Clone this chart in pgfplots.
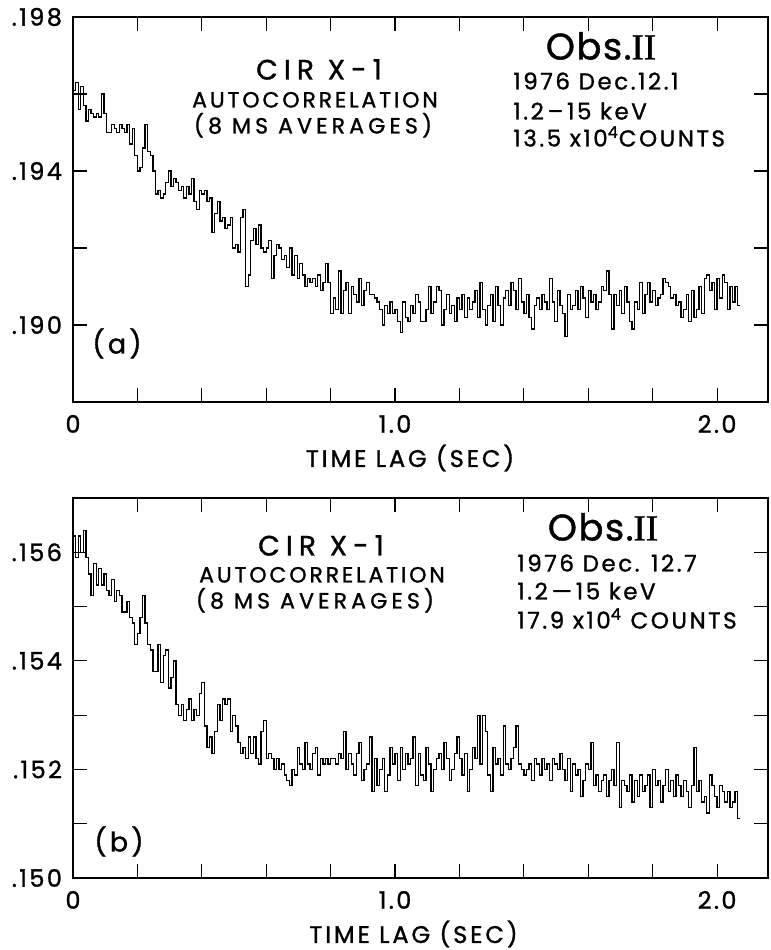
\documentclass[border=0pt]{standalone}
\usepackage{fontspec}
\setmainfont{Poppins}
\newfontfamily\lett[FakeBold=1.2]{Poppins}
\newfontfamily\serif[FakeBold=1.2]{Liberation Serif}
\usepackage{pgfplots}
\pgfplotsset{compat=1.18}

% lettering styles (size in pt, extra letter spacing)
\newcommand\ticksize{\lett\addfontfeature{LetterSpace=10}\fontsize{12}{14}\selectfont}
\newcommand\labsize{\lett\addfontfeature{LetterSpace=12}\fontsize{12}{14}\selectfont}
\newcommand\titlefont{\lett\addfontfeature{LetterSpace=22}\fontsize{14}{16}\selectfont}
\newcommand\subfont{\lett\addfontfeature{LetterSpace=13}\fontsize{11}{13}\selectfont}
\newcommand\subfontw{\lett\addfontfeature{LetterSpace=19}\fontsize{11}{13}\selectfont}
\newcommand\obsfont{\lett\addfontfeature{LetterSpace=4}\fontsize{18.5}{20}\selectfont}
\newcommand\infofont{\lett\addfontfeature{LetterSpace=11}\fontsize{11.5}{13}\selectfont}
\newcommand\tagfont{\lett\addfontfeature{LetterSpace=12}\fontsize{13.5}{15}\selectfont}

\pgfplotsset{
  panel/.style={
    scale only axis,
    width=347.5pt,
    xmin=0, xmax=2.158,
    axis line style={line width=0.8pt},
    every tick/.style={black, line width=0.6pt},
    major tick length=7pt,
    tick align=inside,
    xtick={0,0.2,0.4,0.6,0.8,1.0,1.2,1.4,1.6,1.8,2.0},
    xticklabels={0,,,,,1.0,,,,,2.0},
    scaled ticks=false,
    tick label style={font=\ticksize},
    xticklabel style={yshift=-3pt},
    yticklabel style={xshift=-2pt},
    xlabel={TIME LAG (SEC)},
    xlabel style={font=\labsize, anchor=center, yshift=-28pt},
  },
  acf/.style={const plot mark left, black, line width=0.65pt, no marks},
}

\begin{document}
\begin{tikzpicture}
\useasboundingbox (0,0) rectangle (385.5pt,-475pt);

% ---------------- panel (a) ----------------
\begin{axis}[panel,
  at={(36.5pt,-201pt)}, anchor=south west,
  height=192.5pt,
  ymin=0.188, ymax=0.198,
  ytick={0.188,0.190,0.192,0.194,0.196,0.198},
  yticklabels={,.190,,.194,,.198},
  xlabel style={at={(axis description cs:0.485,0)}},
]
\addplot[acf] coordinates {
(0,.1961)(.008,.1963)(.016,.1956)(.024,.1962)(.032,.1957)(.04,.1953)(.048,.1956)(.056,.1955)(.064,.1954)(.072,.1955)
(.08,.1954)(.088,.1960)(.096,.1955)(.104,.1950)(.112,.1950)(.12,.1952)(.128,.1951)(.136,.1950)(.144,.1952)(.152,.1951)
(.16,.1950)(.168,.1952)(.176,.1947)(.184,.1951)(.192,.1944)(.2,.1940)(.208,.1941)(.216,.1946)(.224,.1952)(.232,.1945)
(.24,.1944)(.248,.1940)(.256,.1934)(.264,.1935)(.272,.1933)(.28,.1934)(.288,.1937)(.296,.1940)(.304,.1936)(.312,.1938)
(.32,.1937)(.328,.1935)(.336,.1936)(.344,.1933)(.352,.1936)(.36,.1934)(.368,.1938)(.376,.1932)(.384,.1930)(.392,.1935)
(.4,.1934)(.408,.1935)(.416,.1932)(.424,.1933)(.432,.1924)(.44,.1929)(.448,.1932)(.456,.1927)(.464,.1928)(.472,.1925)
(.48,.1926)(.488,.1928)(.496,.1920)(.504,.1921)(.512,.1919)(.52,.1928)(.528,.1930)(.536,.1910)(.544,.1913)(.552,.1922)
(.56,.1925)(.568,.1921)(.576,.1926)(.584,.1920)(.592,.1919)(.6,.1920)(.608,.1922)(.616,.1912)(.624,.1918)(.632,.1921)
(.64,.1920)(.648,.1917)(.656,.1918)(.664,.1915)(.672,.1920)(.68,.1913)(.688,.1918)(.696,.1912)(.704,.1916)(.712,.1913)
(.72,.1910)(.728,.1912)(.736,.1911)(.744,.1912)(.752,.1910)(.76,.1913)(.768,.1909)(.776,.1911)(.784,.1916)(.792,.1911)
(.8,.1903)(.808,.1907)(.816,.1904)(.824,.1914)(.832,.1903)(.84,.1909)(.848,.1911)(.856,.1903)(.864,.1910)(.872,.1908)
(.88,.1906)(.888,.1912)(.896,.1905)(.904,.1909)(.912,.1911)(.92,.1908)(.928,.1908)(.936,.1907)(.944,.1906)(.952,.1904)
(.96,.1900)(.968,.1905)(.976,.1903)(.984,.1906)(.992,.1903)(1.0,.1904)(1.008,.1901)(1.016,.1898)(1.024,.1906)(1.032,.1902)
(1.04,.1901)(1.048,.1905)(1.056,.1903)(1.064,.1908)(1.072,.1906)(1.08,.1901)(1.088,.1901)(1.096,.1904)(1.104,.1910)(1.112,.1903)
(1.12,.1906)(1.128,.1910)(1.136,.1909)(1.144,.1900)(1.152,.1904)(1.16,.1908)(1.168,.1903)(1.176,.1905)(1.184,.1901)(1.192,.1907)
(1.2,.1904)(1.208,.1908)(1.216,.1902)(1.224,.1907)(1.232,.1904)(1.24,.1906)(1.248,.1909)(1.256,.1902)(1.264,.1911)(1.272,.1904)
(1.28,.1900)(1.288,.1905)(1.296,.1908)(1.304,.1901)(1.312,.1910)(1.32,.1905)(1.328,.1900)(1.336,.1907)(1.344,.1909)(1.352,.1905)
(1.36,.1911)(1.368,.1909)(1.376,.1904)(1.384,.1912)(1.392,.1906)(1.4,.1903)(1.408,.1908)(1.416,.1902)(1.424,.1899)(1.432,.1905)
(1.44,.1907)(1.448,.1904)(1.456,.1908)(1.464,.1906)(1.472,.1904)(1.48,.1912)(1.488,.1906)(1.496,.1901)(1.504,.1909)(1.512,.1905)
(1.52,.1903)(1.528,.1897)(1.536,.1908)(1.544,.1904)(1.552,.1905)(1.56,.1909)(1.568,.1904)(1.576,.1910)(1.584,.1907)(1.592,.1902)
(1.6,.1909)(1.608,.1906)(1.616,.1908)(1.624,.1904)(1.632,.1906)(1.64,.1910)(1.648,.1909)(1.656,.1914)(1.664,.1908)(1.672,.1899)
(1.68,.1908)(1.688,.1905)(1.696,.1909)(1.704,.1903)(1.712,.1910)(1.72,.1906)(1.728,.1901)(1.736,.1899)(1.744,.1906)(1.752,.1904)
(1.76,.1911)(1.768,.1903)(1.776,.1908)(1.784,.1911)(1.792,.1906)(1.8,.1909)(1.808,.1905)(1.816,.1907)(1.824,.1908)(1.832,.1912)
(1.84,.1911)(1.848,.1910)(1.856,.1907)(1.864,.1908)(1.872,.1905)(1.88,.1906)(1.888,.1902)(1.896,.1904)(1.904,.1908)(1.912,.1901)
(1.92,.1909)(1.928,.1902)(1.936,.1904)(1.944,.1910)(1.952,.1903)(1.96,.1912)(1.968,.1913)(1.976,.1909)(1.984,.1911)(1.992,.1904)
(2.0,.1912)(2.008,.1907)(2.016,.1913)(2.024,.1911)(2.032,.1904)(2.04,.1910)(2.048,.1906)(2.056,.1910)(2.064,.1905)(2.072,.1905)
};
\end{axis}

% ---------------- panel (b) ----------------
\begin{axis}[panel,
  at={(36.5pt,-439pt)}, anchor=south west,
  height=190pt,
  ymin=0.150, ymax=0.157,
  ytick={0.150,0.151,0.152,0.153,0.154,0.155,0.156,0.157},
  yticklabels={.150,,.152,,.154,,.156,},
  xlabel style={at={(axis description cs:0.49,0)}},
]
\addplot[acf] coordinates {
(0,.1563)(.008,.1559)(.016,.1563)(.024,.1560)(.032,.1564)(.04,.1559)(.048,.1556)(.056,.1552)(.064,.1558)(.072,.1554)
(.08,.1557)(.088,.1554)(.096,.1556)(.104,.1553)(.112,.1552)(.12,.1555)(.128,.1551)(.136,.1553)(.144,.1552)(.152,.1549)
(.16,.1549)(.168,.1551)(.176,.1548)(.184,.1547)(.192,.1543)(.2,.1545)(.208,.1548)(.216,.1552)(.224,.1547)(.232,.1543)
(.24,.1542)(.248,.1538)(.256,.1538)(.264,.1543)(.272,.1536)(.28,.1541)(.288,.1542)(.296,.1535)(.304,.1537)(.312,.1540)
(.32,.1532)(.328,.1530)(.336,.1532)(.344,.1529)(.352,.1531)(.36,.1533)(.368,.1529)(.376,.1531)(.384,.1530)(.392,.1534)
(.4,.1536)(.408,.1528)(.416,.1524)(.424,.1526)(.432,.1523)(.44,.1527)(.448,.1532)(.456,.1529)(.464,.1533)(.472,.1532)
(.48,.1533)(.488,.1527)(.496,.1530)(.504,.1528)(.512,.1525)(.52,.1523)(.528,.1524)(.536,.1522)(.544,.1526)(.552,.1523)
(.56,.1526)(.568,.1522)(.576,.1521)(.584,.1527)(.592,.1529)(.6,.1522)(.608,.1523)(.616,.1522)(.624,.1520)(.632,.1522)
(.64,.1520)(.648,.1521)(.656,.1519)(.664,.1518)(.672,.1517)(.68,.1520)(.688,.1519)(.696,.1524)(.704,.1521)(.712,.1520)
(.72,.1525)(.728,.1521)(.736,.1520)(.744,.1523)(.752,.1524)(.76,.1519)(.768,.1522)(.776,.1521)(.784,.1522)(.792,.1521)
(.8,.1522)(.808,.1522)(.816,.1521)(.824,.1523)(.832,.1522)(.84,.1527)(.848,.1520)(.856,.1523)(.864,.1521)(.872,.1519)
(.88,.1523)(.888,.1525)(.896,.1518)(.904,.1520)(.912,.1521)(.92,.1526)(.928,.1516)(.936,.1522)(.944,.1517)(.952,.1520)
(.96,.1522)(.968,.1516)(.976,.1519)(.984,.1524)(.992,.1521)(1.0,.1523)(1.008,.1518)(1.016,.1524)(1.024,.1520)(1.032,.1523)
(1.04,.1521)(1.048,.1522)(1.056,.1526)(1.064,.1517)(1.072,.1523)(1.08,.1519)(1.088,.1518)(1.096,.1524)(1.104,.1521)(1.112,.1516)
(1.12,.1520)(1.128,.1522)(1.136,.1523)(1.144,.1520)(1.152,.1525)(1.16,.1522)(1.168,.1518)(1.176,.1520)(1.184,.1523)(1.192,.1526)
(1.2,.1522)(1.208,.1519)(1.216,.1523)(1.224,.1516)(1.232,.1520)(1.24,.1524)(1.248,.1522)(1.256,.1530)(1.264,.1521)(1.272,.1530)
(1.28,.1527)(1.288,.1519)(1.296,.1516)(1.304,.1524)(1.312,.1521)(1.32,.1522)(1.328,.1519)(1.336,.1528)(1.344,.1521)(1.352,.1520)
(1.36,.1522)(1.368,.1524)(1.376,.1528)(1.384,.1521)(1.392,.1520)(1.4,.1519)(1.408,.1520)(1.416,.1521)(1.424,.1518)(1.432,.1522)
(1.44,.1521)(1.448,.1519)(1.456,.1522)(1.464,.1520)(1.472,.1521)(1.48,.1518)(1.488,.1522)(1.496,.1521)(1.504,.1520)(1.512,.1523)
(1.52,.1520)(1.528,.1518)(1.536,.1522)(1.544,.1516)(1.552,.1521)(1.56,.1519)(1.568,.1520)(1.576,.1515)(1.584,.1518)(1.592,.1521)
(1.6,.1520)(1.608,.1525)(1.616,.1517)(1.624,.1519)(1.632,.1516)(1.64,.1518)(1.648,.1519)(1.656,.1515)(1.664,.1518)(1.672,.1520)
(1.68,.1517)(1.688,.1525)(1.696,.1513)(1.704,.1518)(1.712,.1517)(1.72,.1516)(1.728,.1519)(1.736,.1514)(1.744,.1518)(1.752,.1515)
(1.76,.1519)(1.768,.1516)(1.776,.1517)(1.784,.1519)(1.792,.1513)(1.8,.1520)(1.808,.1517)(1.816,.1518)(1.824,.1514)(1.832,.1517)
(1.84,.1520)(1.848,.1516)(1.856,.1518)(1.864,.1515)(1.872,.1519)(1.88,.1517)(1.888,.1515)(1.896,.1518)(1.904,.1516)(1.912,.1513)
(1.92,.1517)(1.928,.1524)(1.936,.1516)(1.944,.1518)(1.952,.1514)(1.96,.1515)(1.968,.1512)(1.976,.1519)(1.984,.1517)(1.992,.1515)
(2.0,.1513)(2.008,.1517)(2.016,.1516)(2.024,.1514)(2.032,.1516)(2.04,.1513)(2.048,.1514)(2.056,.1516)(2.064,.1511)(2.072,.1511)
};
\end{axis}

% ---------------- annotations ----------------
\begin{scope}[every node/.style={inner sep=0pt}]
% panel (a)
\node[font=\titlefont, anchor=mid] at (159.5pt,-37pt) {CIR X-1};
\node[font=\subfont, anchor=mid] at (157.5pt,-51pt) {AUTOCORRELATION};
\node[font=\subfontw, anchor=mid] at (156.5pt,-64pt) {(8 MS AVERAGES)};
\node[font=\obsfont, anchor=mid] at (300.5pt,-27pt) {Obs.{\serif II}};
\node[font=\infofont, anchor=mid west] at (256.5pt,-42pt) {1976 Dec.12.1};
\node[font=\infofont, anchor=mid west] at (256.5pt,-57pt) {1.2\,\textendash\,15 keV};
\node[font=\infofont, anchor=mid west] at (256.5pt,-70.5pt) {13.5 x10\textsuperscript{4}COUNTS};
\node[font=\tagfont, anchor=mid] at (58.5pt,-174pt) {(a)};
% panel (b)
\node[font=\titlefont, anchor=mid] at (160.5pt,-275pt) {CIR X-1};
\node[font=\subfont, anchor=mid] at (161pt,-288.5pt) {AUTOCORRELATION};
\node[font=\subfontw, anchor=mid] at (157.5pt,-301.5pt) {(8 MS AVERAGES)};
\node[font=\obsfont, anchor=mid] at (301.5pt,-267.5pt) {Obs.{\serif II}};
\node[font=\infofont, anchor=mid west] at (258.5pt,-283pt) {1976 Dec. 12.7};
\node[font=\infofont, anchor=mid west] at (258.5pt,-297pt) {1.2\,\textemdash\,15 keV};
\node[font=\infofont, anchor=mid west] at (258.5pt,-311.5pt) {17.9 x10\textsuperscript{4} COUNTS};
\node[font=\tagfont, anchor=mid] at (59.5pt,-423pt) {(b)};
\end{scope}
\end{tikzpicture}
\end{document}
